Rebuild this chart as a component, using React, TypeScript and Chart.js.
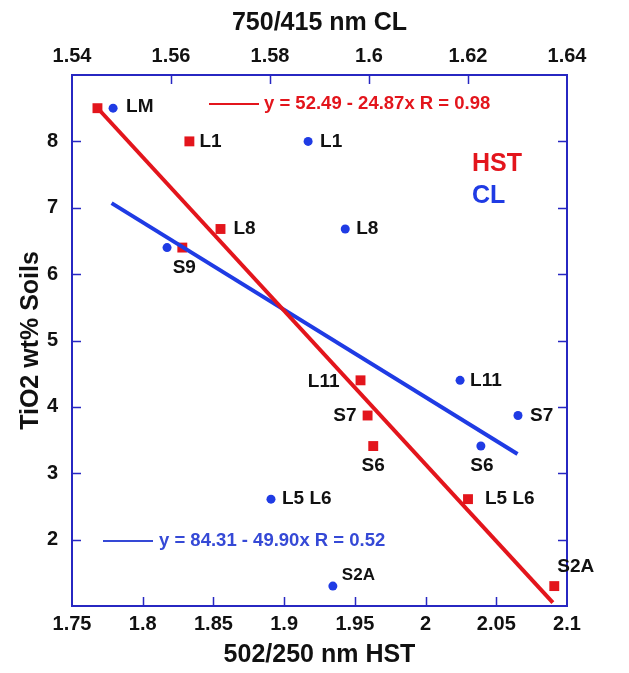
import React, { useEffect, useRef } from 'react';
import { Chart, registerables } from 'chart.js';

Chart.register(...registerables);

// ---- data ----
const samples = ['LM', 'L1', 'L8', 'S9', 'L11', 'S7', 'S6', 'L5 L6', 'S2A'];
const tio2 = [8.5, 8.0, 6.68, 6.4, 4.4, 3.87, 3.41, 2.61, 1.3];
const hstRatio = [1.768, 1.833, 1.855, 1.828, 1.954, 1.959, 1.963, 2.03, 2.091];
const clRatio = [1.5483, 1.5877, 1.5952, 1.5592, 1.6184, 1.6301, 1.6226, 1.5802, 1.5927];
const hstLabels = ['', 'L1', 'L8', 'S9', 'L11', 'S7', 'S6', 'L5 L6', 'S2A'];
const clLabels = ['LM', 'L1', 'L8', '', 'L11', 'S7', 'S6', 'L5 L6', 'S2A'];
const hstFitX = [1.769, 2.09];
const hstFitY = [8.48, 1.05];
const clFitX = [1.548, 1.63];
const clFitY = [7.07, 3.29];
const bottomTicks = [1.75, 1.8, 1.85, 1.9, 1.95, 2, 2.05, 2.1];
const topTicks = [1.54, 1.56, 1.58, 1.6, 1.62, 1.64];
const yTicks = [1, 2, 3, 4, 5, 6, 7, 8, 9];
const hstEquation = 'y = 52.49 - 24.87x R = 0.98';
const clEquation = 'y = 84.31 - 49.90x R = 0.52';

// ---- styles / layout ----
const RED = '#e3151c';
const BLUE = '#1f3be4';
const BLUE_TEXT = '#3549d6';
const FRAME = '#2727c2';
const FONT = '"Liberation Sans", Arial, sans-serif';

// label placement: [dx, dy, align, fontSize]
const hstLabelPos: [number, number, CanvasTextAlign, number][] = [
  [0, 0, 'left', 19],
  [10, 0, 'left', 19],
  [13, 0, 'left', 19],
  [2, 20, 'center', 19],
  [-21, 1, 'right', 19],
  [-11, 0, 'right', 19],
  [0, 20, 'center', 19],
  [17, 0, 'left', 19],
  [3, -19, 'left', 19],
];
const clLabelPos: [number, number, CanvasTextAlign, number][] = [
  [13, -1, 'left', 19],
  [12, 0, 'left', 19],
  [11, 0, 'left', 19],
  [0, 0, 'left', 19],
  [10, 0, 'left', 19],
  [12, 0, 'left', 19],
  [1, 20, 'center', 19],
  [11, 0, 'left', 19],
  [9, -11, 'left', 17],
];

const fmt = (v: number) => String(+Number(v).toFixed(2));

const overlay = {
  id: 'overlay',
  afterDraw(chart: any) {
    const { ctx, chartArea } = chart;
    const { left, right, top, bottom } = chartArea;
    const sx = chart.scales.x;
    const sx2 = chart.scales.x2;
    const sy = chart.scales.y;
    ctx.save();
    // frame
    ctx.strokeStyle = FRAME;
    ctx.lineWidth = 2;
    ctx.strokeRect(left, top, right - left, bottom - top);
    // inward ticks
    const TL = 9;
    ctx.beginPath();
    bottomTicks.slice(1, -1).forEach((v) => {
      const p = Math.round(sx.getPixelForValue(v)) + 0.5;
      ctx.moveTo(p, bottom);
      ctx.lineTo(p, bottom - TL);
    });
    topTicks.slice(1, -1).forEach((v) => {
      const p = Math.round(sx2.getPixelForValue(v)) + 0.5;
      ctx.moveTo(p, top);
      ctx.lineTo(p, top + TL);
    });
    yTicks.slice(1, -1).forEach((v) => {
      const p = Math.round(sy.getPixelForValue(v)) + 0.5;
      ctx.moveTo(left, p);
      ctx.lineTo(left + TL, p);
      ctx.moveTo(right, p);
      ctx.lineTo(right - TL, p);
    });
    ctx.lineWidth = 1.5;
    ctx.stroke();

    // point labels
    ctx.fillStyle = '#111';
    ctx.textBaseline = 'middle';
    samples.forEach((_, i) => {
      const yPix = sy.getPixelForValue(tio2[i]);
      if (hstLabels[i]) {
        const [dx, dy, al, fs] = hstLabelPos[i];
        ctx.font = `bold ${fs}px ${FONT}`;
        ctx.textAlign = al;
        ctx.fillText(hstLabels[i], sx.getPixelForValue(hstRatio[i]) + dx, yPix + dy);
      }
      if (clLabels[i]) {
        const [dx, dy, al, fs] = clLabelPos[i];
        ctx.font = `bold ${fs}px ${FONT}`;
        ctx.textAlign = al;
        ctx.fillText(clLabels[i], sx2.getPixelForValue(clRatio[i]) + dx, yPix + dy);
      }
    });

    // equations with line keys
    ctx.textAlign = 'left';
    ctx.font = `bold 18.5px ${FONT}`;
    const eqRedY = top + 29;
    ctx.strokeStyle = RED;
    ctx.lineWidth = 2;
    ctx.beginPath();
    ctx.moveTo(left + 137, eqRedY);
    ctx.lineTo(left + 187, eqRedY);
    ctx.stroke();
    ctx.fillStyle = RED;
    ctx.fillText(hstEquation, left + 192, eqRedY);

    const eqBlueY = bottom - 65;
    ctx.strokeStyle = BLUE_TEXT;
    ctx.beginPath();
    ctx.moveTo(left + 31, eqBlueY);
    ctx.lineTo(left + 81, eqBlueY);
    ctx.stroke();
    ctx.fillStyle = BLUE_TEXT;
    ctx.fillText(clEquation, left + 87, eqBlueY);

    // series legend
    ctx.font = `bold 25px ${FONT}`;
    ctx.fillStyle = RED;
    ctx.fillText('HST', left + 400, top + 89);
    ctx.fillStyle = BLUE;
    ctx.fillText('CL', left + 400, top + 121);
    ctx.restore();
  },
};

export default function App() {
  const ref = useRef<HTMLCanvasElement | null>(null);
  useEffect(() => {
    if (!ref.current) return;
    const tickFont = { family: FONT, size: 20, weight: 'bold' as const };
    const titleFont = { family: FONT, size: 25, weight: 'bold' as const };
    const chart = new Chart(ref.current, {
      type: 'scatter',
      data: {
        datasets: [
          {
            label: 'HST fit',
            type: 'line',
            data: hstFitX.map((x, i) => ({ x, y: hstFitY[i] })),
            borderColor: RED,
            borderWidth: 4,
            pointRadius: 0,
            xAxisID: 'x',
            yAxisID: 'y',
          },
          {
            label: 'CL fit',
            type: 'line',
            data: clFitX.map((x, i) => ({ x, y: clFitY[i] })),
            borderColor: BLUE,
            borderWidth: 4,
            pointRadius: 0,
            xAxisID: 'x2',
            yAxisID: 'y',
          },
          {
            label: 'HST',
            data: hstRatio.map((x, i) => ({ x, y: tio2[i] })),
            pointStyle: 'rect',
            pointRadius: 7,
            backgroundColor: RED,
            borderWidth: 0,
            xAxisID: 'x',
            yAxisID: 'y',
          },
          {
            label: 'CL',
            data: clRatio.map((x, i) => ({ x, y: tio2[i] })),
            pointStyle: 'circle',
            pointRadius: 4.5,
            backgroundColor: BLUE,
            borderWidth: 0,
            xAxisID: 'x2',
            yAxisID: 'y',
          },
        ],
      },
      options: {
        animation: false,
        responsive: true,
        maintainAspectRatio: false,
        layout: { padding: { left: 0, right: 62, top: 0, bottom: 0 } },
        plugins: { legend: { display: false }, tooltip: { enabled: false } },
        scales: {
          x: {
            type: 'linear',
            position: 'bottom',
            min: 1.75,
            max: 2.1,
            afterBuildTicks: (s: any) => {
              s.ticks = bottomTicks.map((v) => ({ value: v }));
            },
            afterFit: (s: any) => {
              s.height = 67;
            },
            grid: { display: false, drawTicks: false },
            border: { display: false },
            ticks: {
              font: tickFont,
              color: '#111',
              padding: 6,
              maxRotation: 0,
              autoSkip: false,
              callback: (v: any) => fmt(v),
            },
            title: {
              display: true,
              text: '502/250 nm HST',
              font: titleFont,
              color: '#111',
              padding: { top: 0, bottom: 3 },
            },
          },
          x2: {
            type: 'linear',
            position: 'top',
            min: 1.54,
            max: 1.64,
            afterBuildTicks: (s: any) => {
              s.ticks = topTicks.map((v) => ({ value: v }));
            },
            afterFit: (s: any) => {
              s.height = 75;
            },
            grid: { display: false, drawTicks: false },
            border: { display: false },
            ticks: {
              font: tickFont,
              color: '#111',
              padding: 7,
              maxRotation: 0,
              autoSkip: false,
              callback: (v: any) => fmt(v),
            },
            title: {
              display: true,
              text: '750/415 nm CL',
              font: titleFont,
              color: '#111',
              padding: { top: 8, bottom: 0 },
            },
          },
          y: {
            type: 'linear',
            position: 'left',
            min: 1,
            max: 9,
            afterBuildTicks: (s: any) => {
              s.ticks = yTicks.map((v) => ({ value: v }));
            },
            afterFit: (s: any) => {
              s.width = 72;
            },
            grid: { display: false, drawTicks: false },
            border: { display: false },
            ticks: {
              font: tickFont,
              color: '#111',
              padding: 14,
              autoSkip: false,
              callback: (v: any) => (v >= 2 && v <= 8 ? String(v) : ''),
            },
            title: {
              display: true,
              text: 'TiO2 wt% Soils',
              font: titleFont,
              color: '#111',
              padding: { top: 16, bottom: 0 },
            },
          },
        },
      },
      plugins: [overlay],
    } as any);
    return () => chart.destroy();
  }, []);
  return (
    <div style={{ position: 'absolute', left: 0, top: 0, width: 629, height: 673, background: '#fff' }}>
      <canvas ref={ref} style={{ display: 'block' }} />
    </div>
  );
}
